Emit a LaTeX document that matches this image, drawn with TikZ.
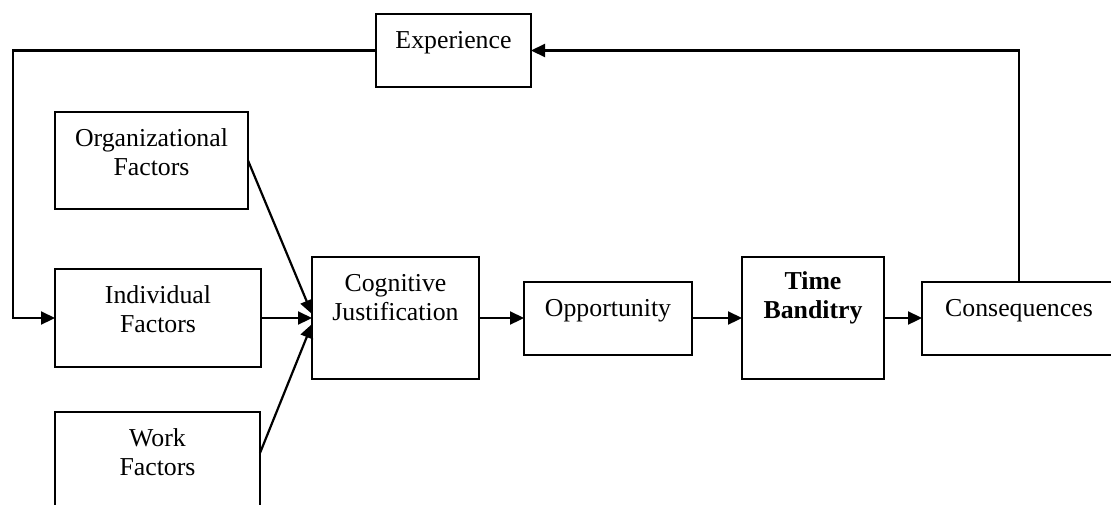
\documentclass[tikz,border=0pt]{standalone}
\usepackage{fontspec}
\setmainfont{Liberation Serif}
\usetikzlibrary{arrows.meta}
\begin{document}
\begin{tikzpicture}[x=0.5pt,y=-0.5pt,
  box/.style={draw, line width=1.2pt, rectangle, inner sep=0pt, outer sep=0pt, anchor=north west},
  bx/.style 2 args={box, minimum width={#1*0.5pt}, minimum height={#2*0.5pt}},
  lbl/.style={align=center, font=\fontsize{12.9}{14.5}\selectfont, inner sep=0pt},
  conn/.style={line width=1.1pt},
  arr/.style={conn, -{Triangle[length=7pt,width=6.5pt]}}]
\useasboundingbox (0,0) rectangle (1111,504);
\clip (0,0) rectangle (1111,504);

% boxes
\node[bx={155}{73}]  (exp)  at (376,14)  {};
\node[bx={193}{97}]  (org)  at (55,112)  {};
\node[bx={206}{98}]  (ind)  at (55,269)  {};
\node[bx={205}{120}] (work) at (55,412)  {};
\node[bx={167}{122}] (cog)  at (312,257) {};
\node[bx={168}{73}]  (opp)  at (524,282) {};
\node[bx={142}{122}] (tb)   at (742,257) {};
\node[bx={194}{73}]  (cons) at (922,282) {};

% labels
\node[lbl] (expt)  at ([yshift=-14.5pt]exp.north)  {Experience};
\node[lbl] (orgt)  at ([yshift=-20pt]org.north)  {Organizational\\Factors};
\node[lbl] (indt)  at ([yshift=-20pt]ind.north)  {Individual\\Factors};
\node[lbl] (workt) at ([yshift=-20pt]work.north) {Work\\Factors};
\node[lbl] (cogt)  at ([yshift=-20.25pt]cog.north) {Cognitive\\Justification};
\node[lbl] (oppt)  at ([yshift=-14.5pt]opp.north)  {Opportunity};
\node[lbl,font=\fontsize{12.9}{14.5}\selectfont\bfseries] (tbt) at ([yshift=-20.25pt]tb.north) {Time\\Banditry};
\node[lbl] (const) at ([yshift=-14.5pt]cons.north) {Consequences};

% connectors
\coordinate (rail) at (13,0);
\draw[arr] (cons.north) |- (exp.east);
\draw[arr] (exp.west) -- (exp.west -| rail) |- (ind.west);
\draw[arr] (org.east) -- ([yshift=2pt]cog.west);
\draw[arr] (ind.east) -- (cog.west);
\draw[arr] ([yshift=-20.5pt]work.north east) -- ([yshift=-3pt]cog.west);
\draw[arr] (cog.east) -- (cog.east -| opp.west);
\draw[arr] (opp.east |- cog.east) -- (tb.west);
\draw[arr] (tb.east) -- (tb.east -| cons.west);
\end{tikzpicture}
\end{document}
